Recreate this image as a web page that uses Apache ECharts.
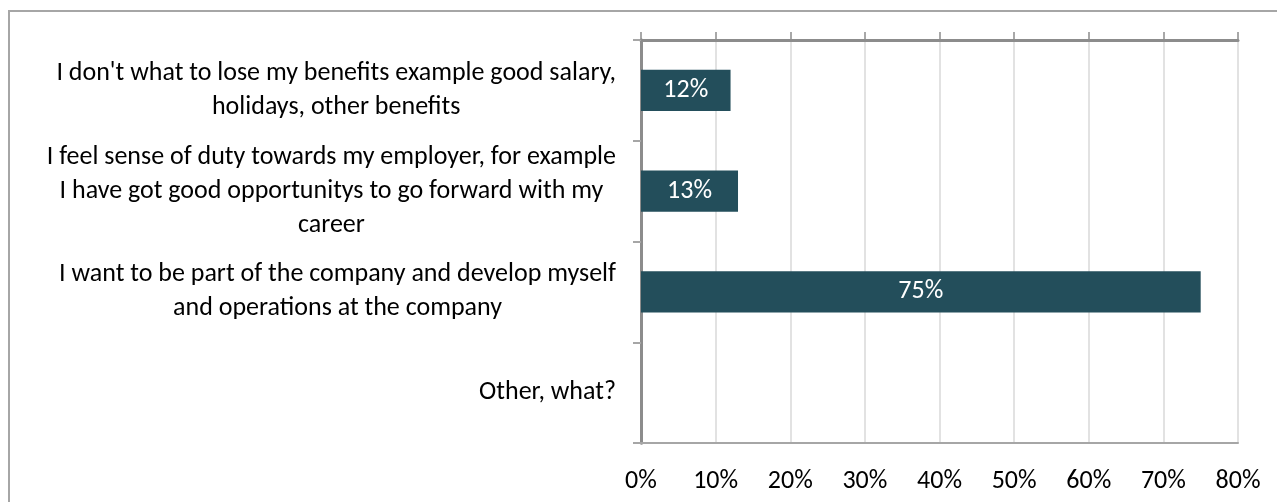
<!DOCTYPE html>
<html>
<head>
<meta charset="utf-8">
<script src="https://cdn.jsdelivr.net/npm/echarts@6/dist/echarts.min.js"></script>
<style>
  html, body { margin: 0; padding: 0; background: #ffffff; }
  #chart { width: 1277px; height: 502px; }
</style>
</head>
<body>
<div id="chart"></div>
<script>
// Reasons for staying with the employer (share of respondents, %)
const categories = [
  "I don't what to lose my benefits example good salary,\nholidays, other benefits",
  "I feel sense of duty towards my employer, for example\nI have got good opportunitys to go forward with my\ncareer",
  "I want to be part of the company and develop myself\nand operations at the company",
  "Other, what?"
];
const shares = [12, 13, 75, 0];
const axisMin = 0;
const axisMax = 80;
const axisStep = 10;

const FONT = 'Carlito, Lato, "Noto Sans", sans-serif';
const FONT_SIZE = 26;

const chart = echarts.init(document.getElementById('chart'), null, { renderer: 'canvas' });

chart.setOption({
  backgroundColor: '#ffffff',
  animation: false,
  textStyle: { fontFamily: FONT },
  graphic: [{
    type: 'rect',
    silent: true,
    shape: { x: 9, y: 11, width: 1400, height: 700 },
    style: { fill: 'none', stroke: '#a6a6a6', lineWidth: 2 }
  }],
  grid: { left: 641, right: 39, top: 40, bottom: 59, containLabel: false },
  xAxis: [{
    type: 'value',
    position: 'bottom',
    min: axisMin, max: axisMax, interval: axisStep,
    axisLine: { show: true, lineStyle: { color: '#a6a6a6', width: 2 } },
    axisTick: { show: false },
    axisLabel: {
      formatter: '{value}%', color: '#000000',
      fontFamily: FONT, fontSize: FONT_SIZE, margin: 25
    },
    splitLine: { show: true, lineStyle: { color: '#e2e2e2', width: 2 } }
  }, {
    type: 'value',
    position: 'top',
    min: axisMin, max: axisMax, interval: axisStep,
    axisLine: { show: true, lineStyle: { color: '#8c8c8c', width: 3 } },
    axisTick: { show: true, length: 8, lineStyle: { color: '#8c8c8c', width: 1.5 } },
    axisLabel: { show: false },
    splitLine: { show: false }
  }],
  yAxis: [{
    type: 'category',
    data: categories,
    inverse: true,
    position: 'left',
    axisLine: { show: true, lineStyle: { color: '#8c8c8c', width: 3 } },
    axisTick: { show: true, length: 8, lineStyle: { color: '#a6a6a6', width: 2 } },
    axisLabel: {
      color: '#000000',
      margin: 25,
      formatter: (v) => v.split('\n').map(line => '{c|' + line + '}').join('\n'),
      rich: {
        c: {
          fontFamily: FONT, fontSize: FONT_SIZE, lineHeight: 34,
          color: '#000000', align: 'center'
        }
      }
    },
    splitLine: { show: false }
  }, {
    type: 'category',
    data: categories,
    inverse: true,
    position: 'right',
    axisLine: { show: true, lineStyle: { color: '#8c8c8c', width: 3 } },
    axisTick: { show: false },
    axisLabel: { show: false },
    splitLine: { show: false }
  }],
  series: [{
    type: 'bar',
    xAxisIndex: 0,
    yAxisIndex: 0,
    data: shares,
    barCategoryGap: '59%',
    itemStyle: { color: '#234e5b' },
    label: {
      show: true,
      position: 'inside',
      color: '#ffffff',
      fontFamily: FONT,
      fontSize: FONT_SIZE,
      formatter: (p) => (p.value > 0 ? p.value + '%' : '')
    }
  }]
});
</script>
</body>
</html>
